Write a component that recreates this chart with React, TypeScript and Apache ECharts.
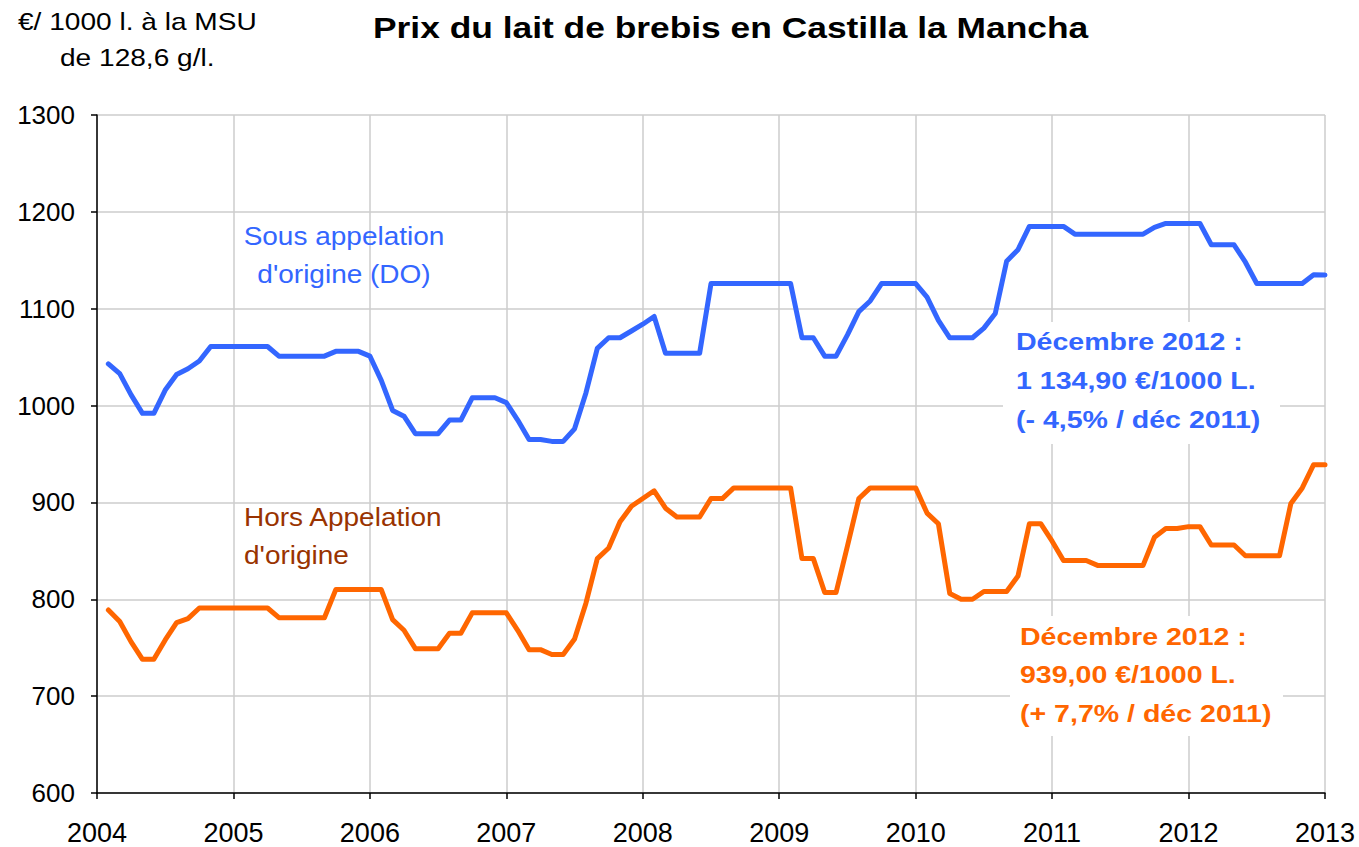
import React, { useEffect, useRef } from 'react';
import * as echarts from 'echarts';

// X axis: years (ticks), monthly data Jan 2004 .. Dec 2012
const yearTicks = [2004, 2005, 2006, 2007, 2008, 2009, 2010, 2011, 2012, 2013];
const startYear = 2004;

// Sous appelation d'origine (DO) — €/1000 l, monthly
const doPrices = [
  1043, 1033, 1011, 992, 992, 1016, 1032, 1038, 1046, 1061, 1061, 1061,
  1061, 1061, 1061, 1051, 1051, 1051, 1051, 1051, 1056, 1056, 1056, 1051,
  1026, 995, 989, 971, 971, 971, 985, 985, 1008, 1008, 1008, 1003,
  985, 965, 965, 963, 963, 976, 1013, 1059, 1070, 1070, 1077, 1084,
  1092, 1054, 1054, 1054, 1054, 1126, 1126, 1126, 1126, 1126, 1126, 1126,
  1126, 1070, 1070, 1051, 1051, 1073, 1097, 1108, 1126, 1126, 1126, 1126,
  1112, 1088, 1070, 1070, 1070, 1080, 1095, 1149, 1161, 1185, 1185, 1185,
  1185, 1177, 1177, 1177, 1177, 1177, 1177, 1177, 1184, 1188, 1188, 1188,
  1188, 1166, 1166, 1166, 1148, 1126, 1126, 1126, 1126, 1126, 1135, 1134.9,
];

// Hors appelation d'origine — €/1000 l, monthly
const horsDoPrices = [
  789, 777, 756, 738, 738, 758, 776, 780, 791, 791, 791, 791,
  791, 791, 791, 781, 781, 781, 781, 781, 810, 810, 810, 810,
  810, 779, 768, 749, 749, 749, 765, 765, 786, 786, 786, 786,
  768, 748, 748, 743, 743, 759, 796, 842, 853, 880, 896, 904,
  912, 894, 885, 885, 885, 904, 904, 915, 915, 915, 915, 915,
  915, 842, 842, 807, 807, 855, 904, 915, 915, 915, 915, 915,
  889, 878, 806, 800, 800, 808, 808, 808, 824, 878, 878, 860,
  840, 840, 840, 835, 835, 835, 835, 835, 864, 873, 873, 875,
  875, 856, 856, 856, 845, 845, 845, 845, 899, 915, 939, 939,
];

const titleText = 'Prix du lait de brebis en Castilla la Mancha';
const unitLines = ['€/ 1000 l. à la MSU', 'de 128,6 g/l.'];
const doLabel = ['Sous appelation', "d'origine (DO)"];
const horsLabel = ['Hors Appelation', "d'origine"];
const doNote = ['Décembre 2012 :', '1 134,90 €/1000 L.', '(- 4,5% / déc 2011)'];
const horsNote = ['Décembre 2012 :', '939,00 €/1000 L.', '(+ 7,7% / déc 2011)'];

const BLUE = '#3366FF';
const ORANGE = '#FF6600';
const BROWN = '#993300';
const FONT = '"Liberation Sans", Arial, sans-serif';

type TxtOpts = { color: string; size: number; bold?: boolean; align?: string; sx?: number };
function txt(text: string, x: number, y: number, o: TxtOpts) {
  return {
    type: 'text',
    x,
    y,
    scaleX: o.sx ?? 1,
    z: 10,
    style: {
      text,
      fill: o.color,
      fontSize: o.size,
      fontWeight: o.bold ? 'bold' : 'normal',
      fontFamily: FONT,
      textAlign: o.align ?? 'left',
      textVerticalAlign: 'middle',
    },
  };
}

export default function App() {
  const ref = useRef<HTMLDivElement>(null);
  useEffect(() => {
    const chart = echarts.init(ref.current!, null, { renderer: 'svg' });
    const toPoints = (vals: number[]) => vals.map((v, i) => [startYear + (i + 1) / 12, v]);

    const graphics: any[] = [
      txt(titleText, 373, 28, { color: '#000', size: 29, bold: true, sx: 1.22 }),
      txt(unitLines[0], 18, 22, { color: '#000', size: 24, sx: 1.17 }),
      txt(unitLines[1], 60, 58, { color: '#000', size: 24, sx: 1.17 }),
      txt(doLabel[0], 344, 237, { color: BLUE, size: 25, sx: 1.12, align: 'center' }),
      txt(doLabel[1], 344, 275, { color: BLUE, size: 25, sx: 1.12, align: 'center' }),
      txt(horsLabel[0], 244, 518, { color: BROWN, size: 25, sx: 1.12 }),
      txt(horsLabel[1], 244, 556, { color: BROWN, size: 25, sx: 1.12 }),
      { type: 'rect', z: 5, shape: { x: 1003, y: 322, width: 277, height: 122 }, style: { fill: '#fff' } },
      { type: 'rect', z: 5, shape: { x: 1010, y: 616, width: 273, height: 120 }, style: { fill: '#fff' } },
      txt(doNote[0], 1016, 342, { color: BLUE, size: 24, bold: true, sx: 1.19 }),
      txt(doNote[1], 1016, 381, { color: BLUE, size: 24, bold: true, sx: 1.19 }),
      txt(doNote[2], 1016, 420, { color: BLUE, size: 24, bold: true, sx: 1.19 }),
      txt(horsNote[0], 1020, 637, { color: ORANGE, size: 24, bold: true, sx: 1.19 }),
      txt(horsNote[1], 1020, 675, { color: ORANGE, size: 24, bold: true, sx: 1.19 }),
      txt(horsNote[2], 1020, 714, { color: ORANGE, size: 24, bold: true, sx: 1.19 }),
    ];

    chart.setOption({
      animation: false,
      backgroundColor: '#fff',
      grid: { left: 97, right: 34, top: 115, bottom: 54, containLabel: false },
      xAxis: {
        type: 'value',
        min: yearTicks[0],
        max: yearTicks[yearTicks.length - 1],
        interval: 1,
        axisLine: { show: true, onZero: false, lineStyle: { color: '#000', width: 1.5 } },
        axisTick: { show: true, length: 6, lineStyle: { color: '#000', width: 1.5 } },
        axisLabel: { color: '#000', fontSize: 27, fontFamily: FONT, margin: 26, formatter: (v: number) => String(v) },
        splitLine: { show: true, lineStyle: { color: '#CDCDCD', width: 1.5 } },
      },
      yAxis: {
        type: 'value',
        min: 600,
        max: 1300,
        interval: 100,
        axisLine: { show: true, onZero: false, lineStyle: { color: '#000', width: 1.5 } },
        axisTick: { show: true, length: 6, lineStyle: { color: '#000', width: 1.5 } },
        axisLabel: { color: '#000', fontSize: 26, fontFamily: FONT, margin: 22, formatter: (v: number) => String(v) },
        splitLine: { show: true, lineStyle: { color: '#CDCDCD', width: 1.5 } },
      },
      series: [
        {
          name: "Sous appelation d'origine (DO)",
          type: 'line',
          data: toPoints(doPrices),
          symbol: 'none',
          lineStyle: { color: BLUE, width: 5, join: 'round', cap: 'round' },
          z: 3,
        },
        {
          name: "Hors Appelation d'origine",
          type: 'line',
          data: toPoints(horsDoPrices),
          symbol: 'none',
          lineStyle: { color: ORANGE, width: 5, join: 'round', cap: 'round' },
          z: 3,
        },
      ],
      graphic: graphics,
    });
    return () => chart.dispose();
  }, []);
  return <div ref={ref} style={{ position: 'fixed', left: 0, top: 0, width: 1359, height: 847 }} />;
}
